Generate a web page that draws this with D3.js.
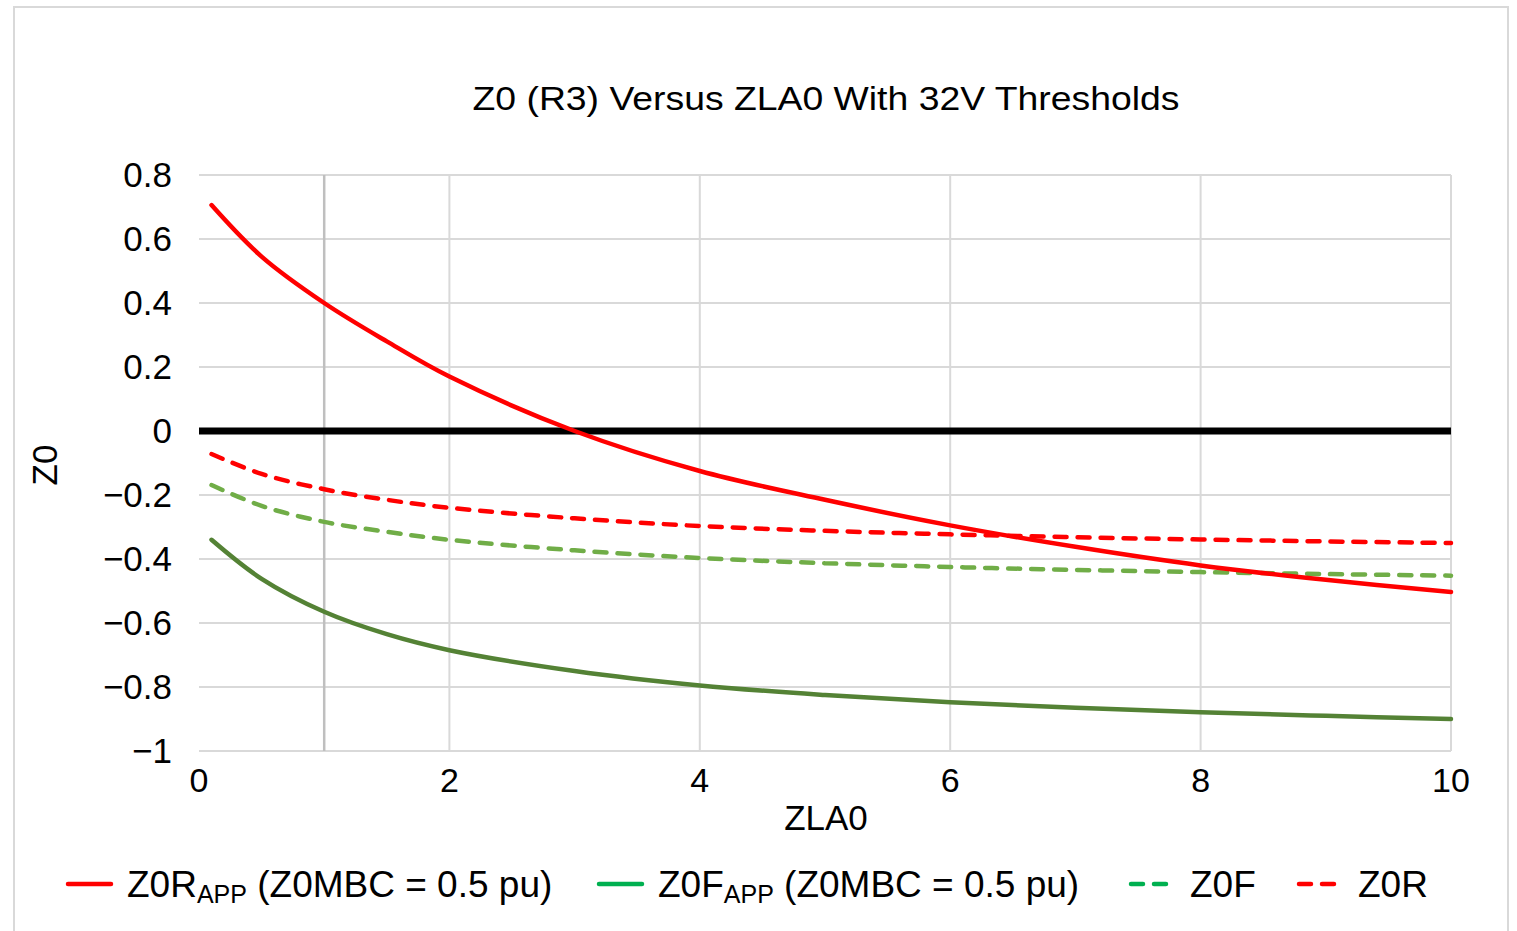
<!DOCTYPE html>
<html>
<head>
<meta charset="utf-8">
<script src="https://cdn.jsdelivr.net/npm/d3@7"></script>
<style>
  body { margin: 0; background: #fff; }
  text { font-family: "Liberation Sans", Arial, sans-serif; fill: #000; }
</style>
</head>
<body>
<svg id="chart" width="1517" height="931"></svg>
<script>
// values
const zla0 = [0.1, 0.5, 1, 1.5, 2, 3, 4, 5, 6, 7, 8, 9, 10];
const z0rApp = [0.706, 0.545, 0.40, 0.28, 0.17, 0.0, -0.125, -0.215, -0.295, -0.362, -0.42, -0.465, -0.503];
const z0fApp = [-0.34, -0.462, -0.565, -0.635, -0.685, -0.75, -0.795, -0.825, -0.848, -0.865, -0.879, -0.89, -0.90];
const z0f = [-0.169, -0.234, -0.284, -0.315, -0.34, -0.373, -0.397, -0.413, -0.425, -0.434, -0.441, -0.447, -0.452];
const z0r = [-0.072, -0.134, -0.182, -0.215, -0.24, -0.273, -0.297, -0.312, -0.323, -0.332, -0.339, -0.345, -0.35];
const xTicks = [0, 2, 4, 6, 8, 10];
const yTicks = [0.8, 0.6, 0.4, 0.2, 0, -0.2, -0.4, -0.6, -0.8, -1];

const svg = d3.select('#chart');

// outer chart border
svg.append('rect')
    .attr('x', 14).attr('y', 7)
    .attr('width', 1494).attr('height', 940)
    .attr('fill', 'none').attr('stroke', '#d9d9d9').attr('stroke-width', 2);

const x = d3.scaleLinear().domain([0, 10]).range([199, 1451]);
const y = d3.scaleLinear().domain([-1, 0.8]).range([751, 175]);

// horizontal gridlines
svg.append('g').selectAll('line')
    .data(yTicks)
    .enter()
    .append('line')
    .attr('x1', x(0)).attr('x2', x(10))
    .attr('y1', function(d) { return y(d) })
    .attr('y2', function(d) { return y(d) })
    .attr('stroke', '#d9d9d9').attr('stroke-width', 2);

// vertical gridlines
svg.append('g').selectAll('line')
    .data(xTicks.filter(function(d) { return d > 0 }))
    .enter()
    .append('line')
    .attr('x1', function(d) { return x(d) })
    .attr('x2', function(d) { return x(d) })
    .attr('y1', y(0.8)).attr('y2', y(-1))
    .attr('stroke', '#d9d9d9').attr('stroke-width', 2);

// darker marker line at ZLA0 = 1
svg.append('line')
    .attr('x1', x(1)).attr('x2', x(1))
    .attr('y1', y(0.8)).attr('y2', y(-1))
    .attr('stroke', '#bfbfbf').attr('stroke-width', 2.5);

// zero line
svg.append('line')
    .attr('x1', x(0)).attr('x2', x(10))
    .attr('y1', y(0)).attr('y2', y(0))
    .attr('stroke', '#000').attr('stroke-width', 7);

// tick labels
svg.append('g').selectAll('text')
    .data(yTicks)
    .enter()
    .append('text')
    .attr('x', 172)
    .attr('y', function(d) { return y(d) + 12 })
    .attr('text-anchor', 'end')
    .style('font-size', '35px')
    .text(function(d) { return d3.format('')(d).replace('-', '\u2212') });

svg.append('g').selectAll('text')
    .data(xTicks)
    .enter()
    .append('text')
    .attr('x', function(d) { return x(d) })
    .attr('y', 792)
    .attr('text-anchor', 'middle')
    .style('font-size', '34px')
    .text(function(d) { return d });

// titles
svg.append('text')
    .attr('x', 826).attr('y', 110)
    .attr('text-anchor', 'middle')
    .attr('textLength', 707)
    .attr('lengthAdjust', 'spacingAndGlyphs')
    .style('font-size', '34px')
    .text('Z0 (R3) Versus ZLA0 With 32V Thresholds');

svg.append('text')
    .attr('x', 826).attr('y', 830)
    .attr('text-anchor', 'middle')
    .style('font-size', '35px')
    .text('ZLA0');

svg.append('text')
    .attr('transform', 'translate(57,465) rotate(-90)')
    .attr('text-anchor', 'middle')
    .style('font-size', '35px')
    .text('Z0');

// series
const series = [
    { name: 'z0r', values: z0r, color: '#ff0000', dash: '12,11' },
    { name: 'z0f', values: z0f, color: '#70ad47', dash: '12,11' },
    { name: 'z0fApp', values: z0fApp, color: '#548235', dash: null },
    { name: 'z0rApp', values: z0rApp, color: '#ff0000', dash: null }
];

const line = d3.line()
    .x(function(d) { return x(d[0]) })
    .y(function(d) { return y(d[1]) })
    .curve(d3.curveCatmullRom.alpha(0.5));

svg.append('g').selectAll('path')
    .data(series)
    .enter()
    .append('path')
    .attr('d', function(d) { return line(d3.zip(zla0, d.values)) })
    .attr('fill', 'none')
    .attr('stroke', function(d) { return d.color })
    .attr('stroke-width', 4.5)
    .attr('stroke-linecap', 'round')
    .attr('stroke-dasharray', function(d) { return d.dash });

// legend
const legendY = 884;
const legend = [
    { x: 68, label: 'Z0R', sub: 'APP', rest: ' (Z0MBC = 0.5 pu)', color: '#ff0000', dash: null },
    { x: 599, label: 'Z0F', sub: 'APP', rest: ' (Z0MBC = 0.5 pu)', color: '#00b050', dash: null },
    { x: 1131, label: 'Z0F', sub: null, rest: '', color: '#00b050', dash: '12,11' },
    { x: 1299, label: 'Z0R', sub: null, rest: '', color: '#ff0000', dash: '12,11' }
];

const lg = svg.append('g').selectAll('g')
    .data(legend)
    .enter()
    .append('g');

lg.append('line')
    .attr('x1', function(d) { return d.x })
    .attr('x2', function(d) { return d.x + 43 })
    .attr('y1', legendY).attr('y2', legendY)
    .attr('stroke', function(d) { return d.color })
    .attr('stroke-width', 4.5)
    .attr('stroke-linecap', 'round')
    .attr('stroke-dasharray', function(d) { return d.dash });

const lt = lg.append('text')
    .attr('x', function(d) { return d.x + 59 })
    .attr('y', legendY + 13)
    .style('font-size', '37px');

lt.append('tspan').text(function(d) { return d.label });
lt.filter(function(d) { return d.sub })
    .append('tspan')
    .attr('dy', 6)
    .style('font-size', '25px')
    .text(function(d) { return d.sub });
lt.filter(function(d) { return d.sub })
    .append('tspan')
    .attr('dy', -6)
    .text(function(d) { return d.rest });
</script>
</body>
</html>
